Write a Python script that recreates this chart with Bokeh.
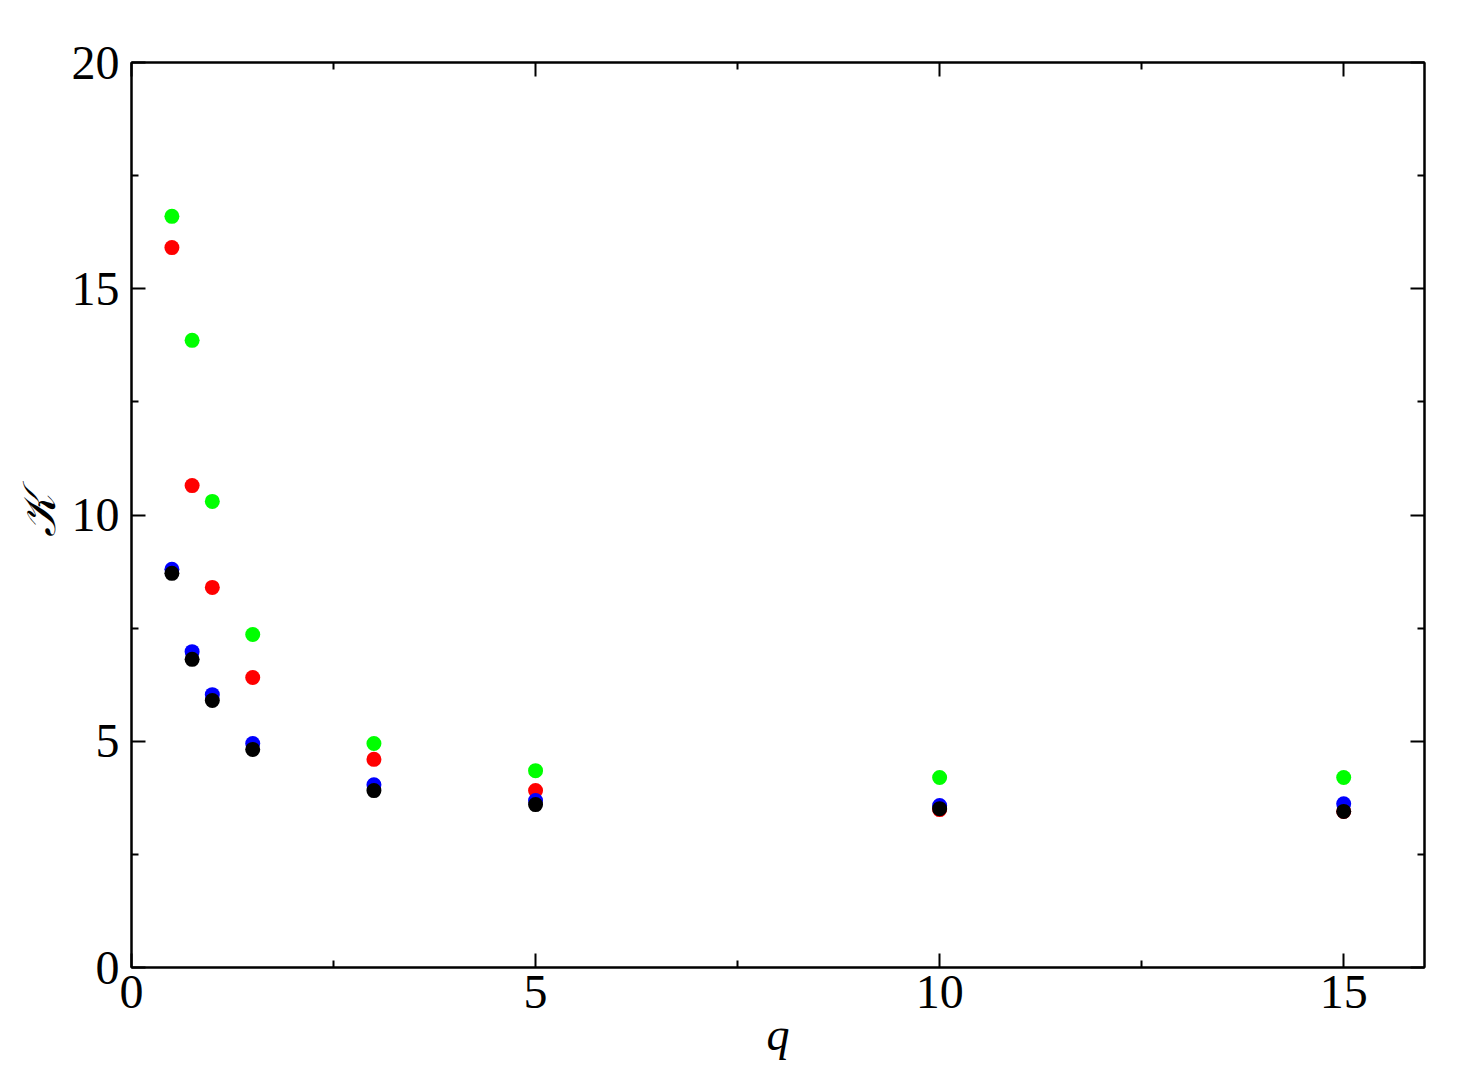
from bokeh.plotting import figure
from bokeh.models import Range1d, FixedTicker, LinearAxis, ColumnDataSource
from bokeh.embed import file_html
from bokeh.resources import INLINE

q = [0.5, 0.75, 1.0, 1.5, 3.0, 5.0, 10.0, 15.0]
k_green = [16.6, 13.86, 10.3, 7.36, 4.95, 4.35, 4.2, 4.2]
k_red = [15.91, 10.65, 8.4, 6.41, 4.6, 3.91, 3.49, 3.45]
k_blue = [8.8, 6.98, 6.03, 4.95, 4.04, 3.69, 3.58, 3.62]
k_black = [8.71, 6.81, 5.9, 4.82, 3.91, 3.6, 3.51, 3.45]

x_major = [0, 5, 10, 15]
x_minor = [2.5, 7.5, 12.5]
y_major = [0, 5, 10, 15, 20]
y_minor = [2.5, 7.5, 12.5, 17.5]

FONT = "Liberation Serif"

p = figure(width=1445, height=1070, output_backend="svg", toolbar_location=None,
           x_range=Range1d(0, 16), y_range=Range1d(0, 20))
p.min_border_left = 131
p.min_border_right = 21
p.min_border_top = 62
p.min_border_bottom = 103
p.grid.visible = False
p.outline_line_color = "black"
p.outline_line_width = 2
p.background_fill_color = "white"
p.border_fill_color = "white"

for vals, col in [(k_green, "#00ff00"), (k_red, "#ff0000"),
                  (k_blue, "#0000ff"), (k_black, "#000000")]:
    src = ColumnDataSource(dict(x=q, y=vals))
    p.scatter("x", "y", source=src, size=15, fill_color=col, line_color=col, line_width=0)

def style(ax, labels=True):
    ax.axis_line_width = 2
    ax.axis_line_color = "black"
    ax.major_tick_in = 14
    ax.major_tick_out = 0
    ax.minor_tick_in = 7
    ax.minor_tick_out = 0
    ax.major_tick_line_width = 2
    ax.minor_tick_line_width = 2
    ax.major_tick_line_color = "black"
    ax.minor_tick_line_color = "black"
    if labels:
        ax.major_label_text_font = FONT
        ax.major_label_text_font_size = "48px"
        ax.major_label_text_color = "black"
        ax.axis_label_text_font = FONT
        ax.axis_label_text_font_size = "46px"
        ax.axis_label_text_font_style = "italic"
        ax.axis_label_text_color = "black"

xt = FixedTicker(ticks=x_major, minor_ticks=x_minor)
yt = FixedTicker(ticks=y_major, minor_ticks=y_minor)

p.xaxis.ticker = xt
p.yaxis.ticker = yt
for ax in p.xaxis:
    style(ax)
    ax.axis_label = "q"
    ax.major_label_standoff = 8
    ax.axis_label_standoff = -2
for ax in p.yaxis:
    style(ax)
    ax.axis_label = "𝒦"
    ax.major_label_standoff = 12
    ax.axis_label_standoff = 4

top = LinearAxis(ticker=xt, major_label_overrides={t: "" for t in x_major})
style(top, labels=False)
top.major_label_standoff = 0
p.add_layout(top, "above")
right = LinearAxis(ticker=yt, major_label_overrides={t: "" for t in y_major})
style(right, labels=False)
right.major_label_standoff = 0
p.add_layout(right, "right")

open("out.html", "w").write(file_html(p, INLINE))
